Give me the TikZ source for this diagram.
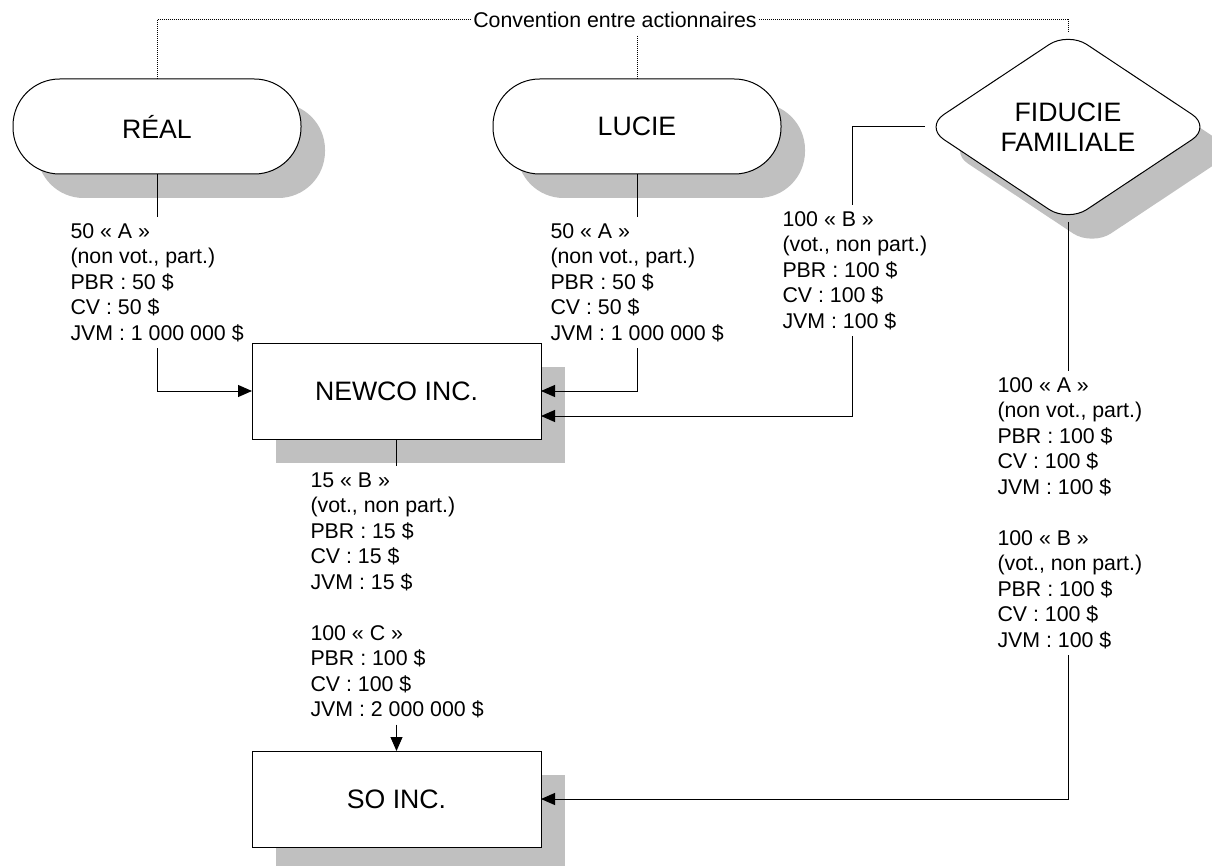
\documentclass[tikz,border=0pt]{standalone}
\usepackage{fontspec}
\setmainfont{Liberation Sans}
\usetikzlibrary{arrows.meta, positioning, shapes.geometric, shadows, calc}
\definecolor{shadowgray}{HTML}{C0C0C0}

\begin{document}
\begin{tikzpicture}[
  x=0.75pt, y=-0.75pt, line width=0.75pt,
  sh/.style={general shadow={shadow xshift=18pt, shadow yshift=-18pt, fill=shadowgray, draw=none}},
  pers/.style={draw, fill=white, rounded corners=35pt, minimum width=216pt, minimum height=71.25pt, inner sep=0pt, outer sep=0pt, font=\fontsize{20}{22.5}\selectfont, sh},
  firm/.style={draw, fill=white, minimum width=216.75pt, minimum height=72pt, outer sep=0pt, font=\fontsize{20}{22.5}\selectfont, sh},
  trust/.style={diamond, aspect=1.5, draw, fill=white, rounded corners=17pt, minimum width=214.5pt, minimum height=142.5pt, inner sep=1pt, outer sep=0pt, align=center, font=\fontsize{20}{22.5}\selectfont, sh},
  lbl/.style={anchor=north west, align=left, inner xsep=0pt, inner ysep=4.5pt, font=\fontsize{16}{19.125}\selectfont},
  ar/.style={-{Triangle[length=10.5pt, width=9pt]}},
  pact/.style={dash pattern=on 0.75pt off 0.75pt}
]
\useasboundingbox (0,0) rectangle (1212,866);

% holders
\node[pers] (real) at (157,126.5) {RÉAL};
\node[pers] (lucie) at (637,126.5) {LUCIE};
\node[trust] (fid) at (1068,127) {FIDUCIE\\FAMILIALE};

% companies
\node[firm] (newco) at (396.5,391) {NEWCO INC.};
\node[firm] (so) at (396.5,799) {SO INC.};

% shareholders' agreement
\node[font=\fontsize{16}{19.125}\selectfont, inner xsep=1.5pt, inner ysep=6pt] (conv) at (615,19.5) {Convention entre actionnaires};

% share blocks
\node[lbl] (realsh) at (70,217) {50 « A »\\(non vot., part.)\\PBR : 50 \$\\CV : 50 \$\\JVM : 1 000 000 \$};
\node[lbl] (lucsh) at (550,217) {50 « A »\\(non vot., part.)\\PBR : 50 \$\\CV : 50 \$\\JVM : 1 000 000 \$};
\node[lbl] (fidnb) at (782,205) {100 « B »\\(vot., non part.)\\PBR : 100 \$\\CV : 100 \$\\JVM : 100 \$};
\node[lbl] (newsh) at (310,466) {15 « B »\\(vot., non part.)\\PBR : 15 \$\\CV : 15 \$\\JVM : 15 \$\\[19.125pt]100 « C »\\PBR : 100 \$\\CV : 100 \$\\JVM : 2 000 000 \$};
\node[lbl] (fidso) at (997,371) {100 « A »\\(non vot., part.)\\PBR : 100 \$\\CV : 100 \$\\JVM : 100 \$\\[19.125pt]100 « B »\\(vot., non part.)\\PBR : 100 \$\\CV : 100 \$\\JVM : 100 \$};

\coordinate (fb) at (852,0);

% agreement links
\draw[pact] (real.north) |- (conv.west);
\draw[pact] (conv.east) -| (fid.north);
\draw[pact] (conv.south -| lucie.north) -- (lucie.north);

% holdings
\draw (real.south) -- (real.south |- realsh.north);
\draw[ar] (realsh.south -| real.south) |- (newco.west);
\draw (lucie.south) -- (lucie.south |- lucsh.north);
\draw[ar] (lucsh.south -| lucie.south) |- (newco.east);
\draw (fid.west) -| (fb |- fidnb.north);
\draw[ar] (fb |- fidnb.south) |- ($(newco.east)+(0,25)$);
\draw (newco.south) -- (newco.south |- newsh.north);
\draw[ar] (newsh.south -| newco.south) -- (so.north);
\draw (fid.south) -- (fid.south |- fidso.north);
\draw[ar] (fidso.south -| fid.south) |- (so.east);
\end{tikzpicture}
\end{document}
